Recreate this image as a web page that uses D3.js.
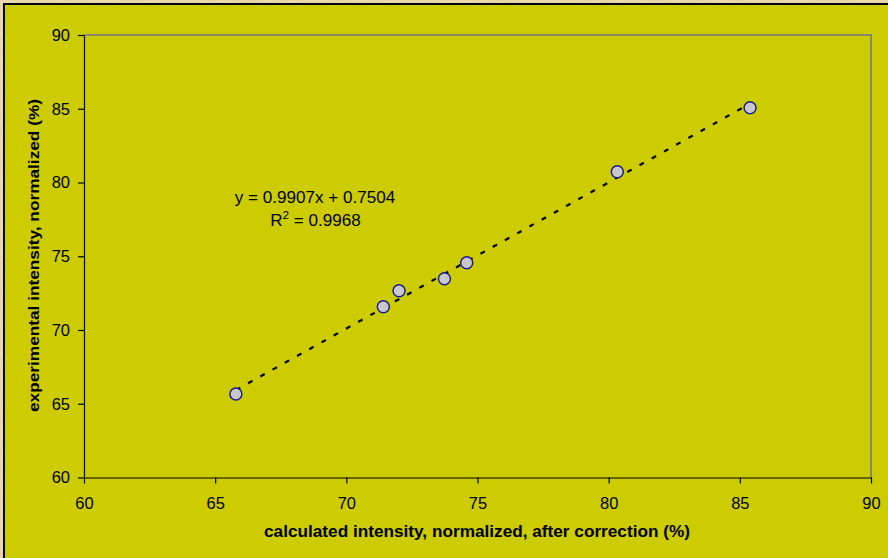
<!DOCTYPE html>
<html>
<head>
<meta charset="utf-8">
<script src="https://cdn.jsdelivr.net/npm/d3@7"></script>
<style>
  html, body { margin: 0; padding: 0; background: #e7d3a4; }
  svg { display: block; }
  text { font-family: "Liberation Sans", Arial, sans-serif; }
</style>
</head>
<body>
<svg id="chart" width="888" height="558"></svg>
<script>
// Calculated vs. experimental normalized intensities (%)
const calculated   = [65.79, 71.41, 72.01, 73.74, 74.59, 80.33, 85.39];
const experimental = [65.66, 71.58, 72.66, 73.48, 74.56, 80.73, 85.07];

// Linear fit reported for the series
const slope = 0.9907;
const intercept = 0.7504;
const rSquared = 0.9968;

const xTicks = [60, 65, 70, 75, 80, 85, 90];
const yTicks = [60, 65, 70, 75, 80, 85, 90];

const xTitle = "calculated intensity, normalized, after correction (%)";
const yTitle = "experimental intensity, normalized (%)";

const W = 888, H = 558;
const plot = { left: 84, right: 871, top: 35, bottom: 477.5 };

const svg = d3.select("#chart");

// parchment backdrop with a faint grain
const defs = svg.append("defs");
const grain = defs.append("filter").attr("id", "grain");
grain.append("feTurbulence").attr("type", "fractalNoise").attr("baseFrequency", "0.05 0.4").attr("numOctaves", 2).attr("seed", 3);
grain.append("feColorMatrix").attr("values", "0 0 0 0 0.93  0 0 0 0 0.84  0 0 0 0 0.66  0 0 0 0.5 0");
svg.append("rect").attr("width", W).attr("height", H).attr("fill", "#e5cf9c");
svg.append("rect").attr("width", W).attr("height", H).attr("filter", "url(#grain)");

// chart area
svg.append("rect")
  .attr("x", 4).attr("y", 4)
  .attr("width", W + 10).attr("height", H + 10)
  .attr("fill", "#cccc00")
  .attr("stroke", "#000").attr("stroke-width", 2);

const x = d3.scaleLinear().domain([60, 90]).range([plot.left, plot.right]);
const y = d3.scaleLinear().domain([60, 90]).range([plot.bottom, plot.top]);

// plot area frame (top and right edges)
svg.append("path")
  .attr("d", `M${plot.left},${plot.top}H${plot.right}V${plot.bottom}`)
  .attr("fill", "none")
  .attr("stroke", "#888868").attr("stroke-width", 2);

// axes
const xAxis = svg.append("g")
  .attr("transform", `translate(0,${plot.bottom})`)
  .call(d3.axisBottom(x).tickValues(xTicks).tickFormat(d3.format("d")).tickSize(6).tickSizeOuter(0).tickPadding(13.5));
const yAxis = svg.append("g")
  .attr("transform", `translate(${plot.left},0)`)
  .call(d3.axisLeft(y).tickValues(yTicks).tickFormat(d3.format("d")).tickSize(6).tickSizeOuter(0).tickPadding(8));

[xAxis, yAxis].forEach(g => {
  g.select(".domain").attr("stroke", "#000").attr("stroke-width", 1.2);
  g.selectAll(".tick line").attr("stroke", "#000").attr("stroke-width", 1.2);
  g.selectAll(".tick text")
    .attr("fill", "#000")
    .style("font-family", '"Liberation Sans", Arial, sans-serif')
    .style("font-size", "16.5px");
});

// axis titles
svg.append("text")
  .attr("x", 477)
  .attr("y", 537)
  .attr("text-anchor", "middle")
  .attr("textLength", 426).attr("lengthAdjust", "spacingAndGlyphs")
  .style("font-size", "16px").style("font-weight", "bold")
  .text(xTitle);

svg.append("text")
  .attr("transform", "translate(39,255.5) rotate(-90)")
  .attr("text-anchor", "middle")
  .attr("textLength", 313).attr("lengthAdjust", "spacingAndGlyphs")
  .style("font-size", "15px").style("font-weight", "bold")
  .text(yTitle);

// trendline over the data range
const xMin = d3.min(calculated), xMax = d3.max(calculated);
svg.append("line")
  .attr("x1", x(xMin)).attr("y1", y(slope * xMin + intercept))
  .attr("x2", x(xMax)).attr("y2", y(slope * xMax + intercept))
  .attr("stroke", "#000").attr("stroke-width", 2.2)
  .attr("stroke-dasharray", "5,9");

// data points
svg.append("g").selectAll("circle")
  .data(calculated.map((c, i) => [c, experimental[i]]))
  .join("circle")
  .attr("cx", d => x(d[0]))
  .attr("cy", d => y(d[1]))
  .attr("r", 6)
  .attr("fill", "#c8c8cc")
  .attr("stroke", "#1c1c90")
  .attr("stroke-width", 1.5);

// fit equation
const label = svg.append("g").attr("transform", "translate(315,0) scale(1.07,1)");
label.append("text")
  .attr("x", 0).attr("y", 203)
  .attr("text-anchor", "middle")
  .style("font-size", "16px")
  .text(`y = ${slope.toFixed(4)}x + ${intercept.toFixed(4)}`);

const r2 = label.append("text")
  .attr("x", 0.5).attr("y", 226)
  .attr("text-anchor", "middle")
  .style("font-size", "16px");
r2.append("tspan").text("R");
r2.append("tspan").attr("dy", -7).style("font-size", "11px").text("2");
r2.append("tspan").attr("dy", 7).text(` = ${rSquared.toFixed(4)}`);
</script>
</body>
</html>
